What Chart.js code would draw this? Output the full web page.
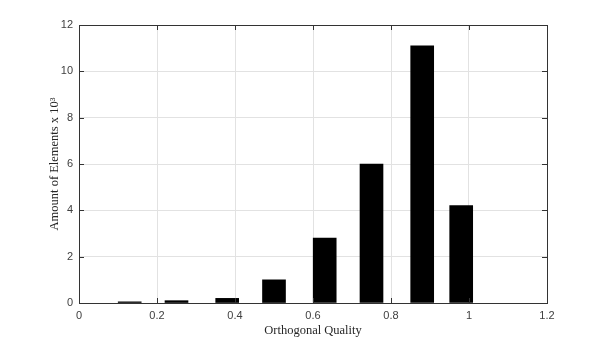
<!DOCTYPE html>
<html>
<head>
<meta charset="utf-8">
<script src="https://cdn.jsdelivr.net/npm/chart.js@4/dist/chart.umd.min.js"></script>
<style>
  html, body { margin: 0; padding: 0; background: #fff; }
</style>
</head>
<body>
<canvas id="hist" width="605" height="341"></canvas>
<script>
// Bin centres (orthogonal quality) and element counts in thousands
const binCentres = [0.13, 0.25, 0.38, 0.5, 0.63, 0.75, 0.88, 0.98];
const elementCounts = [0.05, 0.1, 0.2, 1.0, 2.8, 6.0, 11.1, 4.2];
const xTickLabels = ['0', '0.2', '0.4', '0.6', '0.8', '1', '1.2'];
const yTickLabels = ['0', '2', '4', '6', '8', '10', '12'];

const axisColor = '#333333';
const gridColor = '#e2e2e2';

// MATLAB style box with inward tick marks on all four sides
const boxTicks = {
  id: 'boxTicks',
  afterDatasetsDraw(c) {
    const { ctx, chartArea: a } = c;
    const xs = c.scales.x;
    const ys = c.scales.y;
    const len = 5;
    ctx.save();
    ctx.strokeStyle = axisColor;
    ctx.lineWidth = 1;
    ctx.beginPath();
    xs.ticks.forEach((t) => {
      const px = Math.round(xs.getPixelForValue(t.value)) + 0.5;
      ctx.moveTo(px, a.bottom);
      ctx.lineTo(px, a.bottom - len);
      ctx.moveTo(px, a.top);
      ctx.lineTo(px, a.top + len);
    });
    ys.ticks.forEach((t) => {
      const py = Math.round(ys.getPixelForValue(t.value)) + 0.5;
      ctx.moveTo(a.left, py);
      ctx.lineTo(a.left + len, py);
      ctx.moveTo(a.right, py);
      ctx.lineTo(a.right - len, py);
    });
    ctx.stroke();
    ctx.strokeRect(Math.round(a.left) + 0.5, Math.round(a.top) + 0.5,
      Math.round(a.right - a.left), Math.round(a.bottom - a.top));
    ctx.restore();
  },
};

new Chart(document.getElementById('hist'), {
  type: 'bar',
  data: {
    datasets: [{
      data: binCentres.map((x, i) => ({ x, y: elementCounts[i] })),
      backgroundColor: '#000000',
      borderColor: '#000000',
      borderWidth: 0,
      barThickness: 23,
    }],
  },
  options: {
    responsive: false,
    animation: false,
    layout: {
      padding: { top: 25, right: 58, bottom: 0, left: 40 },
    },
    scales: {
      x: {
        type: 'linear',
        min: 0,
        max: 1.2,
        offset: false,
        afterFit: (s) => { s.height = 38; },
        border: { display: false },
        grid: { color: gridColor, drawTicks: false, offset: false },
        ticks: {
          stepSize: 0.2,
          padding: 6,
          color: '#404040',
          font: { family: 'Liberation Sans', size: 11 },
          callback: (v, i) => xTickLabels[i],
        },
        title: {
          display: true,
          text: 'Orthogonal Quality',
          color: '#262626',
          padding: { top: 0, bottom: 3 },
          font: { family: 'Liberation Serif', size: 12.5 },
        },
      },
      y: {
        min: 0,
        max: 12,
        afterFit: (s) => { s.width = 39; },
        border: { display: false },
        grid: { color: gridColor, drawTicks: false },
        ticks: {
          stepSize: 2,
          padding: 6,
          color: '#404040',
          font: { family: 'Liberation Sans', size: 11 },
          callback: (v, i) => yTickLabels[i],
        },
        title: {
          display: true,
          text: 'Amount of Elements x 10³',
          color: '#262626',
          padding: { top: 7, bottom: 0 },
          font: { family: 'Liberation Serif', size: 12.5 },
        },
      },
    },
    plugins: {
      legend: { display: false },
      tooltip: { enabled: false },
    },
  },
  plugins: [boxTicks],
});
</script>
</body>
</html>
